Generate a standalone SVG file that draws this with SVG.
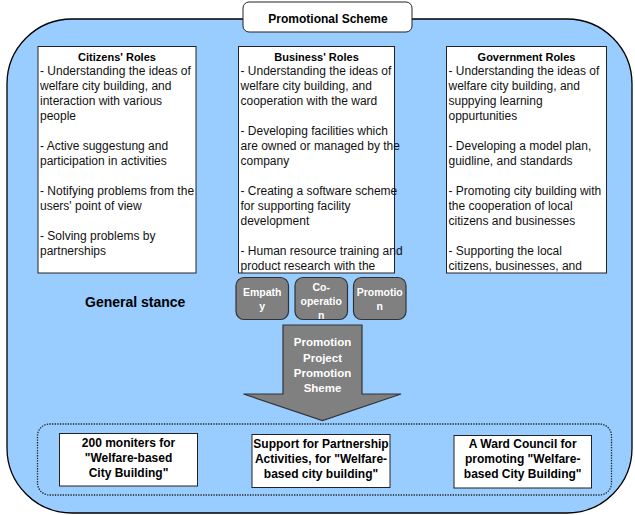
<svg xmlns="http://www.w3.org/2000/svg" width="635" height="515" viewBox="0 0 635 515">
<style>
.bg{fill:#99ccff;stroke:#000;stroke-width:1.3}
.role{fill:#fff;stroke:#222;stroke-width:1}
.rt{font-family:"Liberation Sans",Arial,sans-serif;font-size:11px;font-weight:bold;fill:#000;text-anchor:middle}
.rl{font-family:"Liberation Sans",Arial,sans-serif;font-size:12px;fill:#111}
.gbox{fill:#808080;stroke:#333;stroke-width:1.2}
.gt{font-family:"Liberation Sans",Arial,sans-serif;font-size:10.5px;font-weight:bold;fill:#fff;text-anchor:middle}
.at{font-family:"Liberation Sans",Arial,sans-serif;font-size:11.5px;font-weight:bold;fill:#fff;text-anchor:middle}
.res{fill:#fff;stroke:#222;stroke-width:1}
.bt{font-family:"Liberation Sans",Arial,sans-serif;font-size:12px;font-weight:bold;fill:#000;text-anchor:middle}
</style>
<g id="frame">
<rect class="bg" x="7" y="19" width="625" height="494" rx="65" ry="65"/>
</g>
<g id="title">
<rect x="243" y="2" width="169" height="30" rx="6" fill="#fff" stroke="#222" stroke-width="1"/>
<text x="328" y="22.5" font-family="Liberation Sans,Arial,sans-serif" font-size="12" font-weight="bold" text-anchor="middle" fill="#000">Promotional Scheme</text>
</g>
<g id="citizens">
<rect class="role" x="38" y="46.5" width="158" height="226.5"/>
<text class="rt" x="117" y="60.5">Citizens' Roles</text>
<text class="rl">
<tspan x="40" y="74.7">- Understanding the ideas of</tspan>
<tspan x="40" y="89.7">welfare city building, and</tspan>
<tspan x="40" y="104.7">interaction with various</tspan>
<tspan x="40" y="119.7">people</tspan>
<tspan x="40" y="149.7">- Active suggestung and</tspan>
<tspan x="40" y="164.7">participation in activities</tspan>
<tspan x="40" y="194.7">- Notifying problems from the</tspan>
<tspan x="40" y="209.7">users' point of view</tspan>
<tspan x="40" y="239.7">- Solving problems by</tspan>
<tspan x="40" y="254.7">partnerships</tspan>
</text>
</g>
<g id="business">
<rect class="role" x="238.5" y="46.5" width="156" height="226.5"/>
<text class="rt" x="316.5" y="60.5">Business' Roles</text>
<text class="rl">
<tspan x="240.5" y="74.7">- Understanding the ideas of</tspan>
<tspan x="240.5" y="89.7">welfare city building, and</tspan>
<tspan x="240.5" y="104.7">cooperation with the ward</tspan>
<tspan x="240.5" y="134.7">- Developing facilities which</tspan>
<tspan x="240.5" y="149.7">are owned or managed by the</tspan>
<tspan x="240.5" y="164.7">company</tspan>
<tspan x="240.5" y="194.7">- Creating a software scheme</tspan>
<tspan x="240.5" y="209.7">for supporting facility</tspan>
<tspan x="240.5" y="224.7">development</tspan>
<tspan x="240.5" y="254.7">- Human resource training and</tspan>
<tspan x="240.5" y="269.7">product research with the</tspan>
</text>
</g>
<g id="government">
<rect class="role" x="446.5" y="46.5" width="160" height="226.5"/>
<text class="rt" x="526.5" y="60.5">Government Roles</text>
<text class="rl">
<tspan x="448.5" y="74.7">- Understanding the ideas of</tspan>
<tspan x="448.5" y="89.7">welfare city building, and</tspan>
<tspan x="448.5" y="104.7">suppying learning</tspan>
<tspan x="448.5" y="119.7">oppurtunities</tspan>
<tspan x="448.5" y="149.7">- Developing a model plan,</tspan>
<tspan x="448.5" y="164.7">guidline, and standards</tspan>
<tspan x="448.5" y="194.7">- Promoting city building with</tspan>
<tspan x="448.5" y="209.7">the cooperation of local</tspan>
<tspan x="448.5" y="224.7">citizens and businesses</tspan>
<tspan x="448.5" y="254.7">- Supporting the local</tspan>
<tspan x="448.5" y="269.7">citizens, businesses, and</tspan>
</text>
</g>
<g id="stance">
<text x="85" y="306.7" font-family="Liberation Sans,Arial,sans-serif" font-size="14" font-weight="bold" fill="#000">General stance</text>
</g>
<g id="empathy">
<rect class="gbox" x="236" y="277.5" width="52.5" height="42" rx="8"/>
<text class="gt"><tspan x="262.2" y="295.5">Empath</tspan><tspan x="262.2" y="309.5">y</tspan></text>
</g>
<g id="cooperation">
<rect class="gbox" x="295" y="277.5" width="52.5" height="42" rx="8"/>
<text class="gt"><tspan x="321.2" y="290.5">Co-</tspan><tspan x="321.2" y="304.5">operatio</tspan><tspan x="321.2" y="318.5">n</tspan></text>
</g>
<g id="promotion">
<rect class="gbox" x="353.5" y="277.5" width="52.5" height="42" rx="8"/>
<text class="gt"><tspan x="379.7" y="295.5">Promotio</tspan><tspan x="379.7" y="309.5">n</tspan></text>
</g>
<g id="arrow">
<path d="M283 325 L362 325 L362 394 L401 394 L322.5 420.5 L243.5 394 L283 394 Z" fill="#808080" stroke="#333" stroke-width="1.2" stroke-linejoin="miter"/>
<text class="at"><tspan x="322.5" y="345.8">Promotion</tspan><tspan x="322.5" y="361.5">Project</tspan><tspan x="322.5" y="376.8">Promotion</tspan><tspan x="322.5" y="392.3">Sheme</tspan></text>
</g>
<g id="outcomes">
<rect x="37.5" y="424" width="574" height="71" rx="12" fill="none" stroke="#222" stroke-width="1.3" stroke-dasharray="1.3 1.3"/>
</g>
<g id="monitors">
<rect class="res" x="59.5" y="433.5" width="138" height="52.5"/>
<text class="bt"><tspan x="128.5" y="446.8">200 moniters for</tspan><tspan x="128.5" y="462">"Welfare-based</tspan><tspan x="128.5" y="477.2">City Building"</tspan></text>
</g>
<g id="support">
<rect class="res" x="252" y="434.5" width="138" height="53"/>
<text class="bt"><tspan x="321" y="448">Support for Partnership</tspan><tspan x="321" y="463.2">Activities, for "Welfare-</tspan><tspan x="321" y="478.4">based city building"</tspan></text>
</g>
<g id="council">
<rect class="res" x="454" y="435.5" width="137.5" height="52.5"/>
<text class="bt"><tspan x="522.7" y="447.8">A Ward Council for</tspan><tspan x="522.7" y="463.2">promoting "Welfare-</tspan><tspan x="522.7" y="478.4">based City Building"</tspan></text>
</g>
</svg>
